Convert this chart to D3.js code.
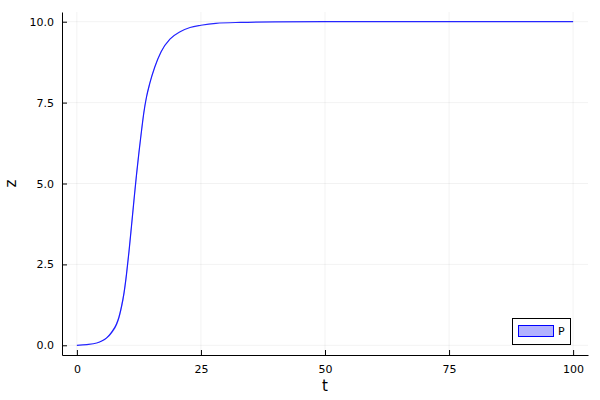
<!DOCTYPE html>
<html>
<head>
<meta charset="utf-8">
<script src="https://cdn.jsdelivr.net/npm/d3@7"></script>
<style>
  html, body { margin: 0; padding: 0; background: #fff; }
  text { font-family: "DejaVu Sans", sans-serif; }
</style>
</head>
<body>
<svg id="chart" width="600" height="400"></svg>
<script>
// ---- data ----
const tValues = [0, 2, 4, 5, 6, 7, 8, 8.5, 9, 9.5, 10, 10.5, 11, 11.5, 12, 12.5, 13, 13.5, 14, 14.7, 15.7, 17, 18.75, 20.8, 22.8, 25, 28, 33, 40, 50, 60, 70, 80, 90, 100];
const zValues = [0, 0.02, 0.07, 0.13, 0.23, 0.40, 0.66, 0.88, 1.2, 1.62, 2.2, 2.9, 3.68, 4.48, 5.25, 5.95, 6.6, 7.2, 7.65, 8.1, 8.6, 9.08, 9.46, 9.69, 9.82, 9.89, 9.95, 9.98, 9.995, 10, 10, 10, 10, 10, 10];
const zSpread = [0, 0, 0, 0.01, 0.02, 0.04, 0.06, 0.08, 0.09, 0.11, 0.13, 0.14, 0.15, 0.15, 0.14, 0.13, 0.11, 0.09, 0.07, 0.05, 0.03, 0.02, 0.01, 0, 0, 0, 0, 0, 0, 0, 0, 0, 0, 0, 0];
const xTicks = [0, 25, 50, 75, 100];
const yTicks = [0, 2.5, 5, 7.5, 10];
const seriesName = "P";
const xLabel = "t";
const yLabel = "z";

const data = tValues.map((t, i) => ({ t, z: zValues[i], lo: zValues[i] - zSpread[i], hi: zValues[i] + zSpread[i] }));

// ---- layout ----
const svg = d3.select("#chart");
const pL = 62, pR = 588, pT = 12, pB = 355;
const x = d3.scaleLinear().domain([-3, 103]).range([pL, pR]);
const y = d3.scaleLinear().domain([-0.3, 10.3]).range([pB, pT]);

// grid
const grid = svg.append("g");
grid.selectAll("line.vx").data(xTicks).enter().append("line")
  .attr("x1", d => x(d)).attr("x2", d => x(d)).attr("y1", pT).attr("y2", pB)
  .attr("stroke", "#000").attr("stroke-opacity", 0.1).attr("stroke-width", 0.5);
grid.selectAll("line.hy").data(yTicks).enter().append("line")
  .attr("x1", pL).attr("x2", pR).attr("y1", d => y(d)).attr("y2", d => y(d))
  .attr("stroke", "#000").attr("stroke-opacity", 0.1).attr("stroke-width", 0.5);

// axes
const xAxis = d3.axisBottom(x).tickValues(xTicks).tickFormat(d3.format("d")).tickSizeInner(-5).tickSizeOuter(0).tickPadding(10);
const yAxis = d3.axisLeft(y).tickValues(yTicks).tickFormat(d3.format(".1f")).tickSizeInner(-5).tickSizeOuter(0).tickPadding(8);
const gx = svg.append("g").attr("transform", `translate(0,${pB})`).call(xAxis);
const gy = svg.append("g").attr("transform", `translate(${pL},0)`).call(yAxis);
[gx, gy].forEach(g => {
  g.select(".domain").attr("stroke", "#000").attr("stroke-width", 1);
  g.selectAll(".tick line").attr("stroke", "#000").attr("stroke-width", 1);
  g.selectAll(".tick text").attr("font-size", 11).attr("fill", "#000").attr("font-family", "DejaVu Sans, sans-serif");
});

// axis labels
svg.append("text").attr("x", (pL + pR) / 2).attr("y", 391).attr("text-anchor", "middle")
  .attr("font-size", 15).text(xLabel);
svg.append("text").attr("transform", `translate(16,${(pT + pB) / 2}) rotate(-90)`).attr("text-anchor", "middle")
  .attr("font-size", 15).text(yLabel);

// ribbon + line
svg.append("clipPath").attr("id", "clip").append("rect")
  .attr("x", pL).attr("y", pT).attr("width", pR - pL).attr("height", pB - pT);
const plot = svg.append("g").attr("clip-path", "url(#clip)");
plot.append("path").datum(data)
  .attr("d", d3.area().x(d => x(d.t)).y0(d => y(d.lo)).y1(d => y(d.hi)).curve(d3.curveMonotoneX))
  .attr("fill", "#0000ff").attr("fill-opacity", 0.3).attr("stroke", "none");
plot.append("path").datum(data)
  .attr("d", d3.line().x(d => x(d.t)).y(d => y(d.z)).curve(d3.curveMonotoneX))
  .attr("fill", "none").attr("stroke", "#0000ff").attr("stroke-opacity", 0.85).attr("stroke-width", 1.2);

// legend
const lg = svg.append("g");
lg.append("rect").attr("x", 512.5).attr("y", 318.5).attr("width", 58).attr("height", 26)
  .attr("fill", "#fff").attr("stroke", "#000").attr("stroke-width", 1);
lg.append("rect").attr("x", 518.5).attr("y", 325.5).attr("width", 35).attr("height", 11)
  .attr("fill", "#0000ff").attr("fill-opacity", 0.3).attr("stroke", "#0000ff").attr("stroke-width", 1);
lg.append("text").attr("x", 558).attr("y", 335).attr("font-size", 11).attr("fill", "#000").text(seriesName);
</script>
</body>
</html>
